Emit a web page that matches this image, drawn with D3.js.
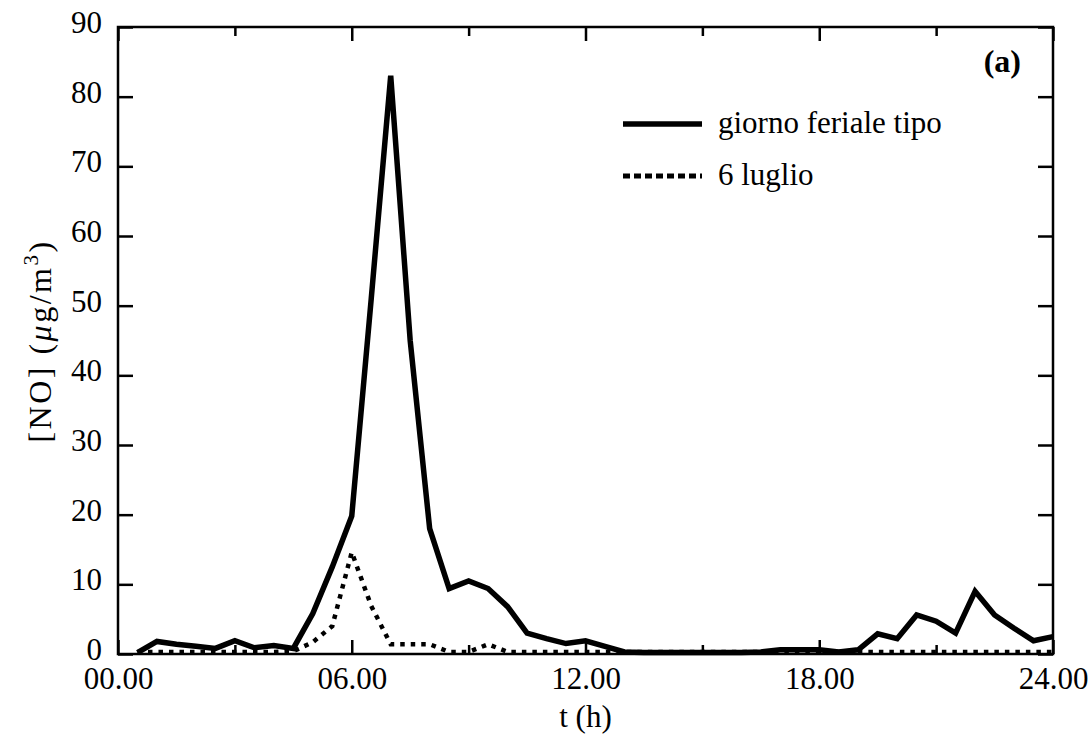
<!DOCTYPE html>
<html>
<head>
<meta charset="utf-8">
<script src="https://cdn.jsdelivr.net/npm/d3@7"></script>
<style>
  html, body { margin: 0; padding: 0; background: #fff; }
  svg { display: block; }
</style>
</head>
<body>
<svg id="chart" width="1090" height="737"></svg>
<script>
// ---- data ----
const hours = [0.5, 1, 1.5, 2, 2.5, 3, 3.5, 4, 4.5, 5, 5.5, 6, 6.5, 7, 7.5, 8, 8.5, 9, 9.5, 10,
  10.5, 11, 11.5, 12, 12.5, 13, 13.5, 14, 14.5, 15, 15.5, 16, 16.5, 17, 17.5, 18, 18.5, 19, 19.5, 20,
  20.5, 21, 21.5, 22, 22.5, 23, 23.5, 24];
const feriale = [0.2, 1.8, 1.4, 1.1, 0.8, 1.9, 0.9, 1.2, 0.8, 5.8, 12.5, 19.8, 51, 83, 45, 18, 9.4, 10.5, 9.4, 6.8,
  3.0, 2.2, 1.5, 1.9, 1.1, 0.3, 0.2, 0.2, 0.2, 0.2, 0.2, 0.2, 0.3, 0.6, 0.6, 0.6, 0.3, 0.6, 2.9, 2.2,
  5.6, 4.7, 3.0, 9.0, 5.6, 3.7, 1.9, 2.5];
const luglio6 = [0.3, 0.3, 0.3, 0.3, 0.3, 0.3, 0.3, 0.3, 0.4, 1.7, 4.0, 14.6, 6.9, 1.4, 1.4, 1.4, 0.3, 0.3, 1.4, 0.3,
  0.3, 0.3, 0.3, 0.3, 0.3, 0.3, 0.3, 0.3, 0.3, 0.3, 0.3, 0.3, 0.3, 0.3, 0.3, 0.3, 0.3, 0.3, 0.3, 0.3,
  0.3, 0.3, 0.3, 0.3, 0.3, 0.3, 0.3, 0.3];
const xMajorTicks = [0, 6, 12, 18, 24];
const xMinorTicks = [3, 9, 15, 21];
const xTickLabels = ["00.00", "06.00", "12.00", "18.00", "24.00"];
const yTicks = [0, 10, 20, 30, 40, 50, 60, 70, 80, 90];
const seriesNames = ["giorno feriale tipo", "6 luglio"];
const panelLabel = "(a)";
const xTitle = "t (h)";

// ---- layout ----
const FONT = "'Liberation Serif', 'Times New Roman', Times, 'DejaVu Serif', serif";
const svg = d3.select("#chart");
const L = 118, R = 1053, T = 27, B = 654;
const x = d3.scaleLinear().domain([0, 24]).range([L, R]);
const y = d3.scaleLinear().domain([0, 90]).range([B, T]);
const fs = 31;

// ---- series ----
const line = d3.line().x(d => x(d[0])).y(d => y(d[1]));
const solidData = hours.map((h, i) => [h, feriale[i]]);
const dotData = hours.map((h, i) => [h, luglio6[i]]);

svg.append("path").datum(dotData)
  .attr("d", line).attr("fill", "none").attr("stroke", "#000")
  .attr("stroke-width", 4.5).attr("stroke-dasharray", "4.5,6");
svg.append("path").datum(solidData)
  .attr("d", line).attr("fill", "none").attr("stroke", "#000")
  .attr("stroke-width", 5.5);

// ---- axes ----
function styleAxis(g) {
  g.attr("font-family", null).attr("font-size", null);
  g.select(".domain").remove();
  g.selectAll(".tick line").attr("stroke", "#000").attr("stroke-width", 2.5);
  g.selectAll(".tick text").style("font-size", fs + "px").style("font-family", FONT).attr("fill", "#000");
}
svg.append("g").attr("transform", `translate(0,${B})`)
  .call(d3.axisBottom(x).tickValues(xMajorTicks).tickSize(-14).tickPadding(13)
    .tickFormat((d, i) => xTickLabels[i]))
  .call(styleAxis);
svg.append("g").attr("transform", `translate(0,${B})`)
  .call(d3.axisBottom(x).tickValues(xMinorTicks).tickSize(-9).tickFormat(""))
  .call(styleAxis);
svg.append("g").attr("transform", `translate(0,${T})`)
  .call(d3.axisTop(x).tickValues(xMajorTicks).tickSize(-14).tickFormat(""))
  .call(styleAxis);
svg.append("g").attr("transform", `translate(0,${T})`)
  .call(d3.axisTop(x).tickValues(xMinorTicks).tickSize(-9).tickFormat(""))
  .call(styleAxis);
const yAx = svg.append("g").attr("transform", `translate(${L},0)`)
  .call(d3.axisLeft(y).tickValues(yTicks).tickSize(-15).tickPadding(16).tickFormat(d3.format("d")))
  .call(styleAxis);
yAx.selectAll(".tick text").attr("dy", "0.18em");
svg.append("g").attr("transform", `translate(${R},0)`)
  .call(d3.axisRight(y).tickValues(yTicks).tickSize(-15).tickFormat(""))
  .call(styleAxis);

// frame
svg.append("rect").attr("x", L).attr("y", T).attr("width", R - L).attr("height", B - T)
  .attr("fill", "none").attr("stroke", "#000").attr("stroke-width", 2.5);

// ---- titles ----
svg.append("text").attr("x", (L + R) / 2).attr("y", 727).attr("text-anchor", "middle")
  .style("font-family", FONT).style("font-size", fs + "px").text(xTitle);

const yl = svg.append("text").attr("transform", `translate(51,${341}) rotate(-90)`)
  .attr("text-anchor", "middle").style("font-family", FONT).style("font-size", "32px")
  .style("letter-spacing", "2.5px");
yl.append("tspan").text("[NO] (");
yl.append("tspan").style("font-style", "italic").text("\u03BC");
yl.append("tspan").text("g/m");
yl.append("tspan").attr("dy", -13).style("font-size", "21px").text("3");
yl.append("tspan").attr("dy", 13).text(")");

svg.append("text").attr("x", 1021).attr("y", 72).attr("text-anchor", "end")
  .style("font-family", FONT).style("font-size", "32px").style("font-weight", "bold").text(panelLabel);

// ---- legend ----
const legRows = [{ y: 124, dash: null, w: 5.5 }, { y: 176, dash: "7,4", w: 5 }];
seriesNames.forEach((name, i) => {
  const r = legRows[i];
  svg.append("line").attr("x1", 623).attr("x2", 702).attr("y1", r.y).attr("y2", r.y)
    .attr("stroke", "#000").attr("stroke-width", r.w)
    .attr("stroke-dasharray", r.dash);
  svg.append("text").attr("x", 718).attr("y", r.y + 9)
    .style("font-family", FONT).style("font-size", "31px").text(name);
});
</script>
</body>
</html>
